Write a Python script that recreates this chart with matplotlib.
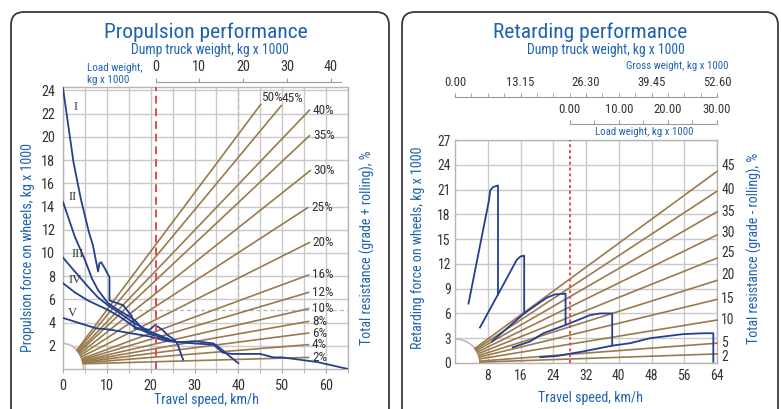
import matplotlib
matplotlib.use('Agg')
import matplotlib.pyplot as plt
import numpy as np
from matplotlib.patches import Ellipse, FancyBboxPatch
from matplotlib import font_manager

# ---- propulsion chart data ----
grade_labels_left = ['50%', '45%', '40%', '35%', '30%', '25%', '20%', '16%', '12%', '10%', '8%', '6%', '4%', '2%']
grade_end_speed_left = [45.1, 49.8, 56.2, 56.2, 56.4, 55.8, 56.2, 56.0, 56.0, 56.0, 56.0, 56.0, 56.0, 56.0]
grade_end_force_left = [22.8, 22.7, 22.3, 20.1, 17.1, 13.9, 10.9, 8.1, 6.6, 5.2, 4.1, 3.1, 2.1, 1.0]

gear_names = ['I', 'II', 'III', 'IV', 'V']
gear_label_speed = [2.4, 1.3, 1.9, 1.3, 1.0]
gear_label_force = [22.6, 14.8, 9.9, 7.7, 4.8]

gear1_speed = [0, 2.4, 4.1, 5.9, 6.8, 8.0, 8.3, 8.7, 9.5, 10.6, 10.6, 13.7, 15.6, 16.3, 16.3, 17.5,
               19.8, 21.0, 22.6, 23.9, 25.5, 26.2, 26.7, 27.4]
gear1_force = [24.2, 17.8, 14.6, 11.8, 10.7, 8.4, 9.1, 9.2, 8.7, 7.9, 5.9, 5.5, 4.6, 3.9, 3.5, 3.4,
               3.4, 3.8, 3.4, 2.9, 2.5, 2.1, 1.5, 0.8]
gear2_speed = [0, 2.7, 5.0, 6.6, 8.0, 10.2, 12.5, 14.8, 16.4, 18.0, 20.0, 23.7, 26.0, 30.1, 34.3, 35.8, 38.0, 40.0]
gear2_force = [14.4, 11.4, 9.4, 7.8, 6.8, 5.7, 5.1, 4.6, 4.2, 3.5, 3.0, 2.6, 2.3, 2.4, 2.2, 1.8, 1.1, 0.5]
gear3_speed = [0, 2.7, 5.7, 7.9, 10.2, 13.0, 16.0, 20.0, 24.0]
gear3_force = [9.6, 8.4, 7.1, 6.2, 5.5, 4.8, 4.0, 3.2, 2.6]
gear4_speed = [0, 2.7, 5.7, 10.2, 13.0, 16.0, 20.0, 24.0]
gear4_force = [7.4, 6.6, 5.9, 5.1, 4.5, 3.7, 3.0, 2.5]
gear5_speed = [0, 7.6, 10.6, 19.8, 23.8, 30.0, 34.3, 36.5, 38.5, 45.0, 48.0, 50.0, 58.0, 65.0]
gear5_force = [4.4, 3.5, 3.4, 2.8, 2.4, 2.2, 2.1, 1.4, 1.3, 1.3, 1.0, 1.0, 0.6, 0.0]

load_ticks_left = [0, 10, 20, 30, 40]

# ---- retarding chart data ----
grade_labels_right = ['45', '40', '35', '30', '25', '20', '15', '10', '5', '2']
grade_end_force_right = [23.2, 20.8, 18.3, 15.5, 12.7, 10.0, 7.7, 5.2, 2.4, 1.1]
grade_label_force_right = [23.8, 20.9, 18.3, 15.7, 13.3, 10.7, 7.7, 5.2, 2.4, 0.7]

ret1_speed = [3.3, 8.3, 8.6, 9.3, 10.5, 10.5]
ret1_force = [7.2, 19.7, 20.9, 21.3, 21.5, 8.3]
ret2_speed = [6.1, 10.5, 15.1, 16.0, 16.9, 16.9]
ret2_force = [4.3, 8.3, 12.5, 12.9, 13.0, 6.0]
ret3_speed = [9.0, 16.9, 22.4, 24.4, 27.0, 27.0]
ret3_force = [2.6, 6.0, 7.9, 8.3, 8.4, 4.6]
ret4_speed = [14.1, 18.3, 21.6, 27.0, 33.0, 35.4, 38.4, 38.4]
ret4_force = [1.9, 2.6, 3.6, 4.6, 5.8, 6.0, 6.0, 2.1]
ret5_speed = [20.8, 24.9, 31.3, 38.4, 42.8, 47.6, 55.8, 60.6, 63.1, 63.1]
ret5_force = [0.7, 0.85, 1.4, 2.1, 2.4, 3.0, 3.5, 3.6, 3.6, 0.15]

gross_ticks = [0, 13.15, 26.30, 39.45, 52.60]
load_ticks_right = [0, 10, 20, 30]

# ---- font: prefer a narrow face, else shrink to fit the reference widths ----
fonts = font_manager.fontManager.ttflist
names = {f.name for f in fonts}
family = 'DejaVu Sans'
for cand in ['Liberation Sans Narrow', 'Roboto Condensed', 'Open Sans Condensed', 'Noto Sans Condensed']:
    if cand in names:
        family = cand
        break
else:
    for cand in ['DejaVu Sans', 'Noto Sans', 'Open Sans', 'Roboto']:
        if any(f.name == cand and f.stretch in ('condensed', 'semi-condensed') for f in fonts):
            family = cand
            plt.rcParams['font.stretch'] = 'condensed'
            break
plt.rcParams['font.family'] = [family, 'DejaVu Sans']

BLUE_TXT = '#1f63b0'
CURVE = '#233f8e'
BROWN = '#9a7a4c'
GRID = '#c9c9c9'
TXT = '#333333'
RED = '#e8464c'

fig = plt.figure(figsize=(7.81, 4.09), dpi=100)
W, H = 781.0, 409.0

# measure the font so "Dump truck weight, kg x 1000" comes out ~157 px wide
probe = fig.text(0, 0, 'Dump truck weight, kg x 1000', fontsize=10)
pw = probe.get_window_extent(fig.canvas.get_renderer()).width
probe.remove()
K = (157.0 / pw * 10) / 9.5   # scale factor applied to all nominal sizes


def fs(size):
    return size * K


# rounded panel frames
for x0, w in [(0.11, 3.78), (4.02, 3.76)]:
    box = FancyBboxPatch((x0, -0.3), w, 4.27, boxstyle='round,pad=0,rounding_size=0.13',
                         transform=fig.dpi_scale_trans, fc='none', ec='#3a3a3a', lw=1.3)
    fig.add_artist(box)


def style_axes(ax):
    ax.set_axisbelow(True)
    for s in ax.spines.values():
        s.set_color('#b5b5b5')
        s.set_linewidth(1.0)
    ax.tick_params(colors=TXT, labelsize=fs(10))
    ax.grid(True, which='both', color=GRID, lw=1.0)


def top_scale(rect, xlim, major, labels, minor, bounds, labelsize, pad):
    tax = fig.add_axes(rect)
    tax.set_xlim(*xlim)
    tax.set_ylim(0, 1)
    tax.patch.set_alpha(0)
    for s in ['left', 'right', 'bottom']:
        tax.spines[s].set_visible(False)
    tax.spines['top'].set_color('#9a9a9a')
    tax.spines['top'].set_bounds(*bounds)
    tax.set_yticks([])
    tax.xaxis.tick_top()
    tax.set_xticks(major)
    tax.set_xticklabels(labels)
    if minor is not None:
        tax.set_xticks(minor, minor=True)
    tax.tick_params(axis='x', which='both', direction='out', length=3, color='#9a9a9a',
                    labelsize=labelsize, labelcolor=TXT, pad=pad)
    return tax


# ================= propulsion =================
ax1 = fig.add_axes([63 / W, 40 / H, 285 / W, 282 / H])
ax1.set_xlim(0, 65)
ax1.set_ylim(0, 24.3)
ax1.set_xticks(range(0, 61, 10))
ax1.set_xticks(range(5, 66, 10), minor=True)
ax1.set_yticks(range(2, 25, 2))
style_axes(ax1)
ax1.tick_params(axis='x', which='both', length=3, color='#aaaaaa', pad=4)
ax1.tick_params(axis='y', length=0, pad=5.5)

a1, b1 = 4.7, 2.2
ax1.add_patch(Ellipse((0, 0), 2 * a1, 2 * b1, fc='white', ec='#bdbdbd', lw=1.2, zorder=2))
for lab, xe, ye in zip(grade_labels_left, grade_end_speed_left, grade_end_force_left):
    th = np.arctan2(ye / b1, xe / a1)
    ph = np.radians(10) + 0.8 * th
    ax1.plot([a1 * np.cos(ph), xe], [b1 * np.sin(ph), ye], color=BROWN, lw=1.2, zorder=3)
    if xe < 52:
        ax1.annotate(lab, (xe, ye), xytext=(0.5, 0.5), textcoords='offset points',
                     ha='left', va='bottom', fontsize=fs(9.3), color=TXT)
    else:
        ax1.annotate(lab, (xe, ye), xytext=(2.5, 0), textcoords='offset points',
                     ha='left', va='center', fontsize=fs(9.3), color=TXT)

ax1.plot([15.5, 65], [5.1, 5.1], color='#bdbdbd', lw=1.0, ls=(0, (3, 2)), zorder=1)
ax1.plot([40, 40], [5.1, 24.3], color='#bdbdbd', lw=1.0, ls=(0, (3, 2)), zorder=1)

for sp, fo in [(gear1_speed, gear1_force), (gear2_speed, gear2_force), (gear3_speed, gear3_force),
               (gear4_speed, gear4_force), (gear5_speed, gear5_force)]:
    ax1.plot(sp, fo, color=CURVE, lw=1.3, zorder=4)
for g, gx, gy in zip(gear_names, gear_label_speed, gear_label_force):
    ax1.text(gx, gy, g, family='Liberation Serif', fontsize=9, color=TXT, ha='left', va='center', zorder=5)

ax1.axvline(21.1, color=RED, lw=1.4, ls=(0, (4, 2.5)), zorder=5)

fig.text(206 / W, 1 - 400 / H, 'Travel speed, km/h', ha='center', va='center',
         color=BLUE_TXT, fontsize=fs(9.8))
fig.text(28 / W, 1 - 248 / H, 'Propulsion force on wheels, kg x 1000', rotation=90,
         ha='center', va='center', color=BLUE_TXT, fontsize=fs(9.8))
fig.text(367 / W, 1 - 248 / H, 'Total resistance (grade + rolling), %', rotation=90,
         ha='center', va='center', color=BLUE_TXT, fontsize=fs(9.8))
fig.text(206 / W, 1 - 32 / H, 'Propulsion performance', ha='center', va='center',
         color=BLUE_TXT, fontsize=fs(15))
fig.text(210 / W, 1 - 50 / H, 'Dump truck weight, kg x 1000', ha='center', va='center',
         color=BLUE_TXT, fontsize=fs(9.5))
fig.text(87 / W, 1 - 74 / H, 'Load weight,\nkg x 1000', ha='left', va='center',
         color=BLUE_TXT, fontsize=fs(7.8), linespacing=1.2)

top_scale([63 / W, 1 - 82 / H - 0.001, 285 / W, 0.001], (-21.1, 43.9), load_ticks_left,
          [str(t) for t in load_ticks_left], None, (0, 42.4), fs(10), 2.5)

# ================= retarding =================
ax2 = fig.add_axes([455 / W, 46 / H, 262 / W, 223 / H])
ax2.set_xlim(0, 64)
ax2.set_ylim(0, 27)
ax2.set_xticks(range(8, 65, 8))
ax2.set_yticks(range(0, 28, 3))
style_axes(ax2)
ax2.tick_params(axis='both', length=0)
ax2.tick_params(axis='x', pad=4, labelsize=fs(9.5))
ax2.tick_params(axis='y', pad=3, labelsize=fs(9.5))

a2, b2 = 6.1, 2.9
ax2.add_patch(Ellipse((0, 0), 2 * a2, 2 * b2, fc='white', ec='#bdbdbd', lw=1.2, zorder=2))
for lab, ye, yl in zip(grade_labels_right, grade_end_force_right, grade_label_force_right):
    th = np.arctan2(ye / b2, 64 / a2)
    ax2.plot([a2 * np.cos(th), 64], [b2 * np.sin(th), ye], color=BROWN, lw=1.2, zorder=3, clip_on=False)
    ax2.annotate(lab, (64, yl), xytext=(3, 0), textcoords='offset points',
                 ha='left', va='center', fontsize=fs(9.5), color=TXT)

for sp, fo in [(ret1_speed, ret1_force), (ret2_speed, ret2_force), (ret3_speed, ret3_force),
               (ret4_speed, ret4_force), (ret5_speed, ret5_force)]:
    ax2.plot(sp, fo, color=CURVE, lw=1.3, zorder=4)

ax2.axvline(28, color=RED, lw=1.4, ls=(0, (1.5, 1.5)), zorder=5)

fig.text(590 / W, 1 - 398 / H, 'Travel speed, km/h', ha='center', va='center',
         color=BLUE_TXT, fontsize=fs(9.8))
fig.text(418 / W, 1 - 248 / H, 'Retarding force on wheels, kg x 1000', rotation=90,
         ha='center', va='center', color=BLUE_TXT, fontsize=fs(9.8))
fig.text(754 / W, 1 - 248 / H, 'Total resistance (grade - rolling), %', rotation=90,
         ha='center', va='center', color=BLUE_TXT, fontsize=fs(9.8))
fig.text(590 / W, 1 - 32 / H, 'Retarding performance', ha='center', va='center',
         color=BLUE_TXT, fontsize=fs(15))
fig.text(606 / W, 1 - 50 / H, 'Dump truck weight, kg x 1000', ha='center', va='center',
         color=BLUE_TXT, fontsize=fs(9.5))
fig.text(728 / W, 1 - 66 / H, 'Gross weight, kg x 1000', ha='right', va='center',
         color=BLUE_TXT, fontsize=fs(7.6))
fig.text(644 / W, 1 - 132 / H, 'Load weight, kg x 1000', ha='center', va='center',
         color=BLUE_TXT, fontsize=fs(7.6))

gross_minor = np.linspace(0, 52.6, 17)
top_scale([455 / W, 1 - 97 / H - 0.001, 262 / W, 0.001], (0, 52.6), gross_ticks,
          ['%.2f' % t for t in gross_ticks], gross_minor, (0, 52.6), fs(8.8), 3)
load_minor = np.arange(0, 30.1, 5)
top_scale([455 / W, 1 - 124 / H - 0.001, 262 / W, 0.001], (-28 / 1.2, 30), load_ticks_right,
          ['%.2f' % t for t in load_ticks_right], load_minor, (0, 30), fs(8.8), 3)

fig.savefig('out.png', dpi=100)
